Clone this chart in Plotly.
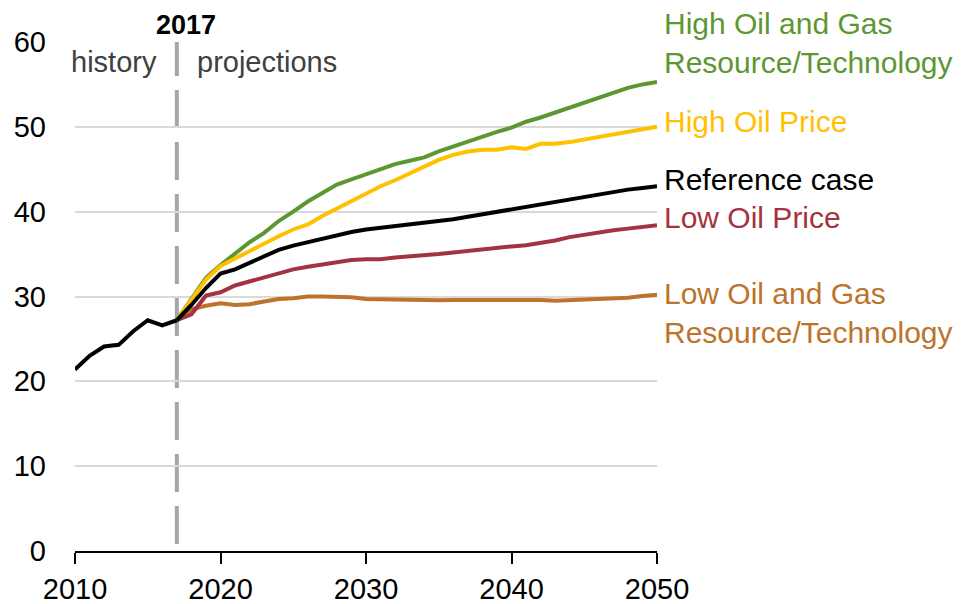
import plotly.graph_objects as go

years_hist = list(range(2010, 2018))
hist = [21.4, 23.0, 24.1, 24.3, 25.9, 27.2, 26.6, 27.2]

years_proj = list(range(2017, 2051))
reference = [27.2, 29.0, 31.0, 32.7, 33.2, 34.0, 34.8, 35.5, 36.0, 36.4, 36.9, 37.3,
             37.6, 37.9, 38.1, 38.2, 38.4, 38.6, 38.8, 39.1, 39.4, 39.7, 39.9,
             40.2, 40.5, 40.8, 41.1, 41.4, 41.7, 42.0, 42.3, 42.6, 42.8, 43.0]
high_ogrt = [27.2, 29.8, 32.2, 33.7, 35.1, 36.4, 37.5, 38.9, 40.0, 41.2, 42.2, 43.2,
             43.8, 44.4, 45.1, 45.6, 46.0, 46.4, 47.1, 47.7, 48.3, 48.9, 49.4,
             49.9, 50.6, 51.1, 51.7, 52.3, 52.9, 53.5, 54.0, 54.6, 55.0, 55.3]
high_price = [27.2, 29.7, 32.0, 33.6, 34.5, 35.4, 36.2, 37.1, 37.9, 38.5, 39.5, 40.4,
              41.2, 42.2, 43.0, 43.7, 44.5, 45.3, 46.1, 46.7, 47.1, 47.3, 47.3,
              47.6, 47.4, 48.0, 48.0, 48.2, 48.5, 48.9, 49.2, 49.45, 49.7, 50.0]
low_price = [27.2, 27.9, 30.1, 30.5, 31.3, 31.8, 32.2, 32.7, 33.2, 33.5, 33.8, 34.0,
             34.3, 34.4, 34.4, 34.6, 34.7, 34.9, 35.0, 35.2, 35.4, 35.6, 35.7,
             35.9, 36.05, 36.3, 36.6, 37.0, 37.3, 37.6, 37.8, 38.0, 38.2, 38.4]
low_ogrt = [27.2, 28.5, 28.9, 29.2, 29.0, 29.1, 29.4, 29.7, 29.8, 30.0, 30.0, 29.95,
            29.9, 29.7, 29.65, 29.6, 29.55, 29.6, 29.55, 29.6, 29.6, 29.65, 29.6,
            29.65, 29.6, 29.6, 29.5, 29.55, 29.6, 29.65, 29.7, 29.85, 30.05, 30.2]

x_ticks = [2010, 2020, 2030, 2040, 2050]
y_ticks = [0, 10, 20, 30, 40, 50, 60]

GREEN = "#5d9732"
YELLOW = "#ffc000"
BLACK = "#000000"
RED = "#a33340"
ORANGE = "#bd732a"

FONT = "Liberation Sans, Arial, sans-serif"
LW = 4

fig = go.Figure()
for name, ys, col in [("Low Oil and Gas Resource/Technology", low_ogrt, ORANGE),
                      ("Low Oil Price", low_price, RED),
                      ("High Oil and Gas Resource/Technology", high_ogrt, GREEN),
                      ("High Oil Price", high_price, YELLOW),
                      ("Reference case", reference, BLACK)]:
    fig.add_trace(go.Scatter(x=years_proj, y=ys, mode="lines", name=name,
                             line=dict(color=col, width=LW), showlegend=False))
fig.add_trace(go.Scatter(x=years_hist, y=hist, mode="lines", name="history",
                         line=dict(color=BLACK, width=LW), showlegend=False))

fig.add_shape(type="line", xref="x", yref="y", x0=2017, x1=2017, y0=60.47, y1=0,
              line=dict(color="#a6a6a6", width=4, dash="38px,14px"), layer="below")

labels = [
    ("High Oil and Gas<br>Resource/Technology", 59.85, GREEN),
    ("High Oil Price", 50.65, YELLOW),
    ("Reference case", 43.75, BLACK),
    ("Low Oil Price", 39.3, RED),
    ("Low Oil and Gas<br>Resource/Technology", 28.05, ORANGE),
]
for txt, yv, col in labels:
    fig.add_annotation(x=2050, y=yv, xref="x", yref="y", text=txt, showarrow=False,
                       xanchor="left", yanchor="middle", xshift=5, align="left",
                       font=dict(family=FONT, size=30, color=col))

fig.add_annotation(x=2017, y=1.034, xref="x", yref="paper", text="<b>2017</b>", showarrow=False,
                   xanchor="center", yanchor="middle", xshift=9,
                   font=dict(family=FONT, size=27, color="#000000"))
fig.add_annotation(x=2017, y=57.6, xref="x", yref="y", text="history", showarrow=False,
                   xanchor="right", yanchor="middle", xshift=-18,
                   font=dict(family=FONT, size=29, color="#404040"))
fig.add_annotation(x=2017, y=57.6, xref="x", yref="y", text="projections", showarrow=False,
                   xanchor="left", yanchor="middle", xshift=18,
                   font=dict(family=FONT, size=29, color="#404040"))

fig.update_layout(
    template="none",
    width=980, height=604,
    margin=dict(l=67, r=331, t=34, b=61, autoexpand=False),
    plot_bgcolor="white", paper_bgcolor="white",
    font=dict(family=FONT, size=29, color="#000000"),
    xaxis=dict(range=[2010, 2050], tickvals=x_ticks, ticktext=[str(v) for v in x_ticks],
               showgrid=False, zeroline=False, showline=True, linecolor="#000000",
               linewidth=2, ticks="outside", ticklen=11, tickwidth=2, tickcolor="#000000",
               automargin=False,
               tickfont=dict(family=FONT, size=29, color="#000000")),
    yaxis=dict(range=[0, 60], tickvals=y_ticks, ticktext=[str(v) for v in y_ticks],
               showgrid=True, gridcolor="#d9d9d9", gridwidth=2, zeroline=False,
               showline=False, ticks="", ticklabelstandoff=28, automargin=False,
               tickfont=dict(family=FONT, size=29, color="#000000")),
)

fig.write_html("out.html")
